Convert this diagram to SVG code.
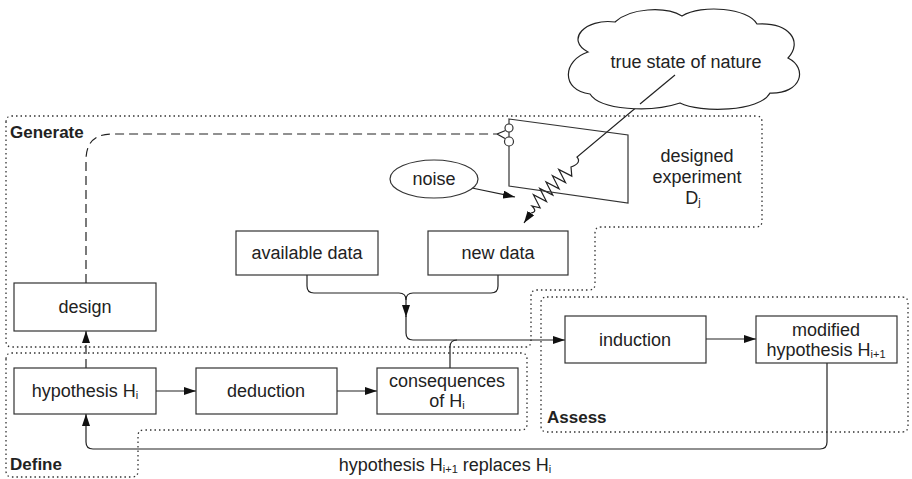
<svg xmlns="http://www.w3.org/2000/svg" width="912" height="479" viewBox="0 0 912 479">
<style>
.box{fill:#fff;stroke:#333;stroke-width:1.2}
.t{font-family:"Liberation Sans",Arial,Helvetica,sans-serif;font-size:18px;fill:#222;text-anchor:middle}
.lbl{font-family:"Liberation Sans",Arial,Helvetica,sans-serif;font-size:17px;font-weight:bold;fill:#222}
.region{fill:none;stroke:#333;stroke-width:1.3;stroke-dasharray:1.5 3}
.conn{fill:none;stroke:#222;stroke-width:1.2}
.dash{stroke-dasharray:9 5}
.sub{font-size:11px}
</style>
<defs>
<marker id="arr" viewBox="0 0 12 8" refX="12" refY="4" markerWidth="12" markerHeight="8" markerUnits="userSpaceOnUse" orient="auto">
<path d="M0,0 L12,4 L0,8 z" fill="#111"/>
</marker>
</defs>

<g id="regions">
<g id="generate">
<path class="region" d="M6 122 Q6 116 12 116 H756 Q762 116 762 122 V221 Q762 227 756 227 H601 Q595 227 595 233 V284 Q595 290 589 290 H537 Q531 290 531 296 V341 Q531 347 525 347 H12 Q6 347 6 341 Z"/>
<text class="lbl" x="10" y="138">Generate</text>
</g>
<g id="define">
<path class="region" d="M6 359 Q6 353 12 353 H521 Q527 353 527 359 V424 Q527 430 521 430 H144 Q138 430 138 436 V471 Q138 477 132 477 H12 Q6 477 6 471 Z"/>
<text class="lbl" x="10" y="470">Define</text>
</g>
<g id="assess">
<path class="region" d="M547 297 H902 Q908 297 908 303 V426 Q908 432 902 432 H547 Q541 432 541 426 V303 Q541 297 547 297 Z"/>
<text class="lbl" x="547" y="423">Assess</text>
</g>
</g>

<g id="connectors">
<!-- dashed design to experiment -->
<path class="conn dash" d="M86 283 V160 Q86 134 112 134 H497"/>
<path class="conn" d="M497 134 L505.5 130.5 M497 134 L505 138.5"/>
<!-- dashed hypothesis to design -->
<path class="conn dash" d="M86 368 V331" marker-end="url(#arr)"/>
<!-- merge -->
<path class="conn" d="M307 275 V286 Q307 293 314 293 H399 Q406 293 406 300 V317" marker-end="url(#arr)"/>
<path class="conn" d="M498 275 V286 Q498 293 491 293 H413 Q406 293 406 300"/>
<path class="conn" d="M406 316 V333 Q406 340 413 340 H565" marker-end="url(#arr)"/>
<path class="conn" d="M450 368 V347 Q450 340 457 340"/>
<!-- chain -->
<path class="conn" d="M156 391 H196" marker-end="url(#arr)"/>
<path class="conn" d="M337 391 H377" marker-end="url(#arr)"/>
<path class="conn" d="M706 339 H756" marker-end="url(#arr)"/>
<!-- feedback -->
<path class="conn" d="M827 363 V442 Q827 449 820 449 H93 Q86 449 86 442 V414" marker-end="url(#arr)"/>
<text class="t" x="445" y="471">hypothesis H<tspan class="sub" dy="2">i+1</tspan><tspan dy="-2"> replaces H</tspan><tspan class="sub" dy="2">i</tspan></text>
<!-- noise arrow -->
<path class="conn" d="M472 188 L515 197" marker-end="url(#arr)"/>
<!-- nature to spring -->
<path class="conn" d="M675 75 L577 157 Q582 163 571 167 L571.8 176.1 L558.7 169.4 L565.5 182.5 L552.4 175.7 L559.1 188.8 L546 182 L552.8 195.1 L539.7 188.4 L546.5 201.5 L533.4 194.7 L540.1 207.8 L532 206 Q538 212 531 213 L524 223" marker-end="url(#arr)"/>
</g>

<g id="nature">
<path class="conn" style="fill:#fff" d="M588 52 C565 40 585 18 615 22 C630 8 665 6 682 16 C702 4 748 8 757 24 C790 22 803 42 788 58 C808 68 802 94 770 93 C760 112 700 113 680 103 C650 113 600 110 590 94 C560 90 563 60 588 52 Z"/>
<text class="t" x="686" y="68">true state of nature</text>
</g>
<path class="conn" d="M675 75 L640 104"/>

<g id="experiment">
<polygon class="box" style="fill:none" points="509,119 628,135 628,203 509,186"/>
<circle cx="509" cy="128" r="4" class="box"/>
<circle cx="509" cy="141.5" r="4.5" class="box"/>
<text class="t" x="697" y="162">designed</text>
<text class="t" x="697" y="183">experiment</text>
<text class="t" x="693" y="204">D<tspan class="sub" dy="2">j</tspan></text>
</g>

<g id="noise">
<ellipse cx="434" cy="179" rx="44" ry="19" class="box"/>
<text class="t" x="434" y="185">noise</text>
</g>

<g id="available">
<rect class="box" x="236" y="231" width="142" height="44"/>
<text class="t" x="307" y="259">available data</text>
</g>
<g id="newdata">
<rect class="box" x="428" y="231" width="140" height="44"/>
<text class="t" x="498" y="259">new data</text>
</g>
<g id="design">
<rect class="box" x="14" y="283" width="142" height="48"/>
<text class="t" x="85" y="313">design</text>
</g>
<g id="hypothesis">
<rect class="box" x="14" y="368" width="142" height="46"/>
<text class="t" x="85" y="397">hypothesis H<tspan class="sub" dy="2">i</tspan></text>
</g>
<g id="deduction">
<rect class="box" x="196" y="368" width="141" height="46"/>
<text class="t" x="266" y="397">deduction</text>
</g>
<g id="consequences">
<rect class="box" x="377" y="368" width="141" height="46"/>
<text class="t" x="447" y="387">consequences</text>
<text class="t" x="447" y="407">of H<tspan class="sub" dy="2">i</tspan></text>
</g>
<g id="induction">
<rect class="box" x="565" y="316" width="141" height="47"/>
<text class="t" x="635" y="346">induction</text>
</g>
<g id="modified">
<rect class="box" x="756" y="316" width="141" height="47"/>
<text class="t" x="826" y="336">modified</text>
<text class="t" x="826" y="356">hypothesis H<tspan class="sub" dy="2">i+1</tspan></text>
</g>
</svg>
